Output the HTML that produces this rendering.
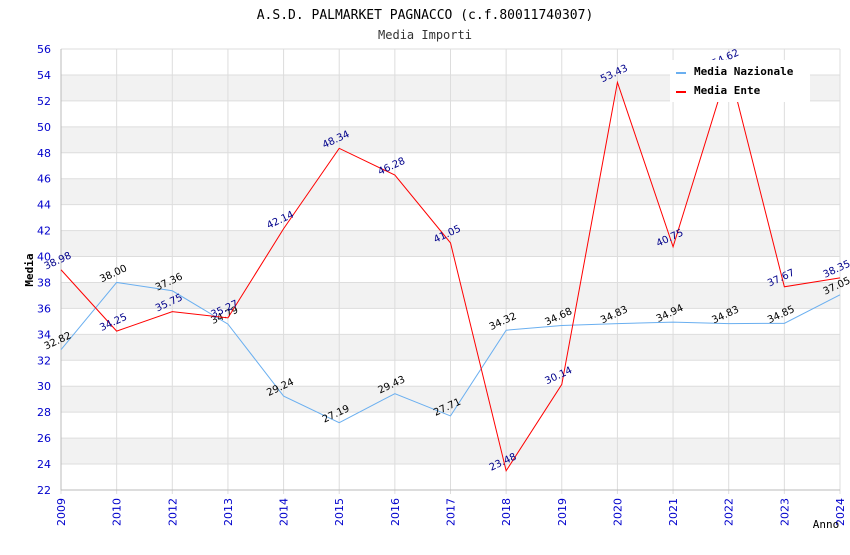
<!DOCTYPE html>
<html><head><meta charset="utf-8"><style>
body{margin:0;background:#fff;}
svg text{font-family:"DejaVu Sans Mono","Liberation Mono",monospace;}
</style></head><body>
<svg id="c" width="850" height="550" xmlns="http://www.w3.org/2000/svg">
<text x="425" y="19" text-anchor="middle" font-size="13" fill="#000">A.S.D. PALMARKET PAGNACCO (c.f.80011740307)</text>
<text x="425" y="39" text-anchor="middle" font-size="12" fill="#333">Media Importi</text>
<g id="grid"></g><g id="axes"></g><g id="series"></g>
<text x="33" y="270" text-anchor="middle" font-size="11" font-weight="bold" transform="rotate(-90 33 270)">Media</text>
<text x="826" y="528" text-anchor="middle" font-size="11">Anno</text>
<g>
<rect x="670" y="60" width="140" height="42" fill="#fff"/>
<rect x="676" y="72" width="10" height="2" fill="#6aaff0"/>
<text x="694" y="75" font-size="11" font-weight="bold">Media Nazionale</text>
<rect x="676" y="91" width="10" height="2" fill="#f00"/>
<text x="694" y="94" font-size="11" font-weight="bold">Media Ente</text>
</g>
</svg>
<script>
const years=["2009","2010","2012","2013","2014","2015","2016","2017","2018","2019","2020","2021","2022","2023","2024"];
const nazionale=[32.82,38.00,37.36,34.79,29.24,27.19,29.43,27.71,34.32,34.68,34.83,34.94,34.83,34.85,37.05];
const ente=[38.98,34.25,35.75,35.27,42.14,48.34,46.28,41.05,23.48,30.14,53.43,40.75,54.62,37.67,38.35];
const yTicks=[22,24,26,28,30,32,34,36,38,40,42,44,46,48,50,52,54,56];
const NS="http://www.w3.org/2000/svg";
const L=61,R=840,T=49,B=490,yMin=22,yMax=56;
const xs=i=>L+i*(R-L)/(years.length-1);
const ys=v=>B-(v-yMin)*(B-T)/(yMax-yMin);
function mk(tag,at,parent,txt){const e=document.createElementNS(NS,tag);for(const k in at)e.setAttribute(k,at[k]);if(txt!==undefined)e.textContent=txt;parent.appendChild(e);return e;}
const grid=document.getElementById('grid'),axes=document.getElementById('axes'),ser=document.getElementById('series');
for(let i=0;i<yTicks.length-1;i++){
 const y1=ys(yTicks[i+1]),y0=ys(yTicks[i]);
 const r=mk('rect',{x:L,y:y1,width:R-L,height:y0-y1,fill:i%2===1?'#f2f2f2':'#fff'},grid);
 
 
}
yTicks.forEach(t=>{
 const l=mk('line',{x1:L,x2:R,y1:ys(t),y2:ys(t),stroke:'#ddd'},grid);
 
 
 const tx=mk('text',{x:L-10,y:ys(t)+4,'text-anchor':'end','font-size':11,fill:'#00c',style:'font-family:"DejaVu Sans","Liberation Sans",sans-serif'},axes,t);
 
 
});
years.forEach((yr,i)=>{
 const l=mk('line',{x1:xs(i),x2:xs(i),y1:T,y2:B+4,stroke:'#ddd'},grid);
 
 
 const x=xs(i),y=B+8;
 const tx=mk('text',{x:x,y:y,'text-anchor':'end','font-size':11,fill:'#00c',transform:`rotate(-90 ${x} ${y})`,dy:'4',style:'font-family:"DejaVu Sans","Liberation Sans",sans-serif'},axes,yr);
 
 
});
const ax=mk('path',{d:`M${L} ${T}V${B}H${R}`,fill:'none',stroke:'#bbb'},axes);


function series(vals,color,lblColor,name){
 const p=mk('polyline',{points:vals.map((v,i)=>xs(i)+','+ys(v)).join(' '),fill:'none',stroke:color,'stroke-width':1},ser);
 
 
 vals.forEach((v,i)=>{
  const x=xs(i)-2,y=ys(v)-6;
  const t=mk('text',{x:x,y:y,'text-anchor':'middle','font-size':10,fill:lblColor,transform:`rotate(-25 ${x} ${y})`,style:'font-family:"DejaVu Sans","Liberation Sans",sans-serif'},ser,v.toFixed(2));
  
  
 });
}
series(nazionale,'#6aaff0','#000','nazionale');
series(ente,'#f00','#00008b','ente');
</script>
</body></html>
